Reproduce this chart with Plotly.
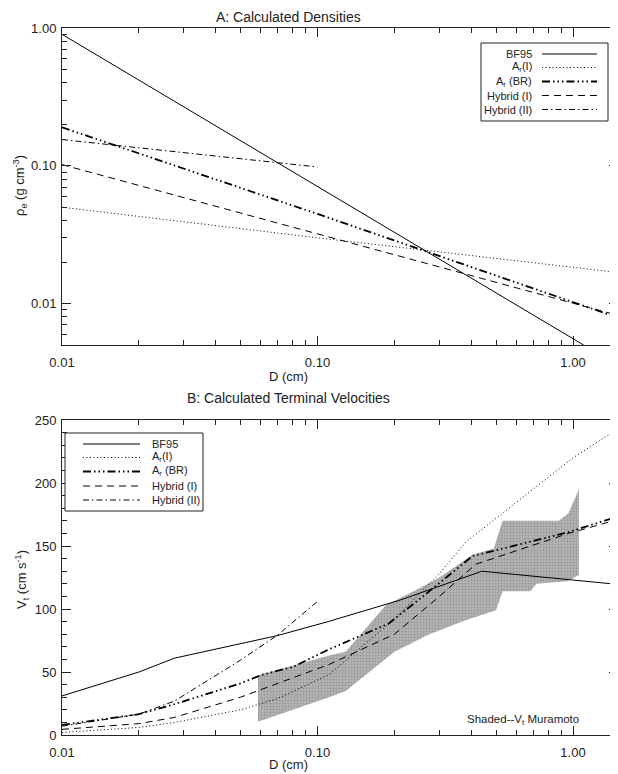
import plotly.graph_objects as go
import math

# ---------------- Panel A: calculated densities (g cm^-3) ----------------
rho_D_bf95 = [0.01, 0.1, 1.0, 1.1]
rho_bf95 = [0.90, 0.0705, 0.0055, 0.0050]

rho_D_ari = [0.01, 0.1, 1.5]
rho_ari = [0.050, 0.030, 0.0168]

rho_D_arbr = [0.01, 0.1, 1.5]
rho_arbr = [0.19, 0.0447, 0.0079]

rho_D_hyb1 = [0.01, 0.1, 1.5]
rho_hyb1 = [0.102, 0.032, 0.0082]

rho_D_hyb2 = [0.01, 0.1]
rho_hyb2 = [0.155, 0.098]

# ---------------- Panel B: terminal velocities (cm s^-1) ----------------
v_D_bf95 = [0.01, 0.02, 0.0276, 0.07, 0.11, 0.21, 0.44, 1.0, 1.5]
v_bf95 = [31, 50, 61, 79, 90, 107, 130, 123, 119.5]

v_D_ari = [0.01, 0.02, 0.0276, 0.05, 0.07, 0.111, 0.2, 0.3, 0.38, 0.67, 1.0, 1.5]
v_ari = [2, 6, 10, 20, 29, 48, 92, 128, 153, 192, 220, 243]

v_D_arbr = [0.01, 0.02, 0.0276, 0.05, 0.06, 0.08, 0.111, 0.19, 0.266, 0.404, 0.96, 1.5]
v_arbr = [8, 16.5, 24.5, 41, 47.5, 54, 68, 88.5, 112, 142, 161, 173.5]

v_D_hyb1 = [0.01, 0.02, 0.0276, 0.05, 0.07, 0.111, 0.2, 0.3, 0.416, 0.6, 0.96, 1.5]
v_hyb1 = [4.5, 9, 14, 30, 41, 56, 80, 110, 135.5, 146, 160, 171]

v_D_hyb2 = [0.01, 0.02, 0.0276, 0.05, 0.07, 0.1]
v_hyb2 = [7, 16.5, 27, 59.5, 79.5, 106]

# Muramoto shaded envelope
mur_D_upper = [0.0585, 0.111, 0.129, 0.185, 0.243, 0.30, 0.404, 0.49, 0.53, 0.88, 0.96, 1.055]
mur_V_upper = [47.5, 63, 66, 103, 115, 125, 143, 148, 170, 170, 176, 195]
mur_D_lower = [0.0585, 0.111, 0.129, 0.20, 0.274, 0.38, 0.45, 0.50, 0.53, 0.68, 0.72, 0.95, 1.055]
mur_V_lower = [10.5, 30, 35, 66, 80, 91, 96, 99, 114, 114, 120, 122, 127]

names = ["BF95", "A<sub>r</sub>(I)", "A<sub>r</sub> (BR)", "Hybrid (I)", "Hybrid (II)"]
styles = [
    dict(color="black", width=1.0, dash="solid"),
    dict(color="black", width=1.0, dash="1px,2.5px"),
    dict(color="black", width=1.8, dash="8px,3px,1.5px,3px,1.5px,3px,1.5px,3px"),
    dict(color="black", width=1.0, dash="7px,5px"),
    dict(color="black", width=1.0, dash="6px,3px,1.5px,3px"),
]

fig = go.Figure()

# shaded region
poly_D = mur_D_upper + mur_D_lower[::-1]
poly_V = mur_V_upper + mur_V_lower[::-1]
fig.add_trace(go.Scatter(x=poly_D, y=poly_V, xaxis="x2", yaxis="y2", mode="lines",
                         fill="toself", fillcolor="#b0b0b0", line=dict(width=0),
                         fillpattern=dict(shape=".", bgcolor="#b4b4b4", fgcolor="#7a7a7a",
                                          size=3, solidity=0.35),
                         hoverinfo="skip", showlegend=False))

top = [(rho_D_bf95, rho_bf95), (rho_D_ari, rho_ari), (rho_D_arbr, rho_arbr),
       (rho_D_hyb1, rho_hyb1), (rho_D_hyb2, rho_hyb2)]
bot = [(v_D_bf95, v_bf95), (v_D_ari, v_ari), (v_D_arbr, v_arbr),
       (v_D_hyb1, v_hyb1), (v_D_hyb2, v_hyb2)]
for (xs, ys), nm, st in zip(top, names, styles):
    fig.add_trace(go.Scatter(x=xs, y=ys, xaxis="x", yaxis="y", mode="lines",
                             name=nm, line=st, showlegend=False))
for (xs, ys), nm, st in zip(bot, names, styles):
    fig.add_trace(go.Scatter(x=xs, y=ys, xaxis="x2", yaxis="y2", mode="lines",
                             name=nm, line=st, showlegend=False))

# geometry (page pixels; the page body has an 8px margin)
OFF = 8
PAGE_W, PAGE_H = 618, 774
W, H = PAGE_W - OFF, PAGE_H - OFF
X_LEFT, X_RIGHT = 62, 618      # plot area, page pixels
Y_TOP, Y_BOT = 28, 735
L = X_LEFT - OFF
R = PAGE_W - X_RIGHT
T = Y_TOP - OFF
B = PAGE_H - Y_BOT
PW, PH = X_RIGHT - X_LEFT, Y_BOT - Y_TOP


def px(x):
    return (x - X_LEFT) / PW


def py(y):
    return (Y_BOT - y) / PH


FONT = "Liberation Sans, Arial, sans-serif"
tickfont = dict(family=FONT, size=13, color="#222")

log_minor_x = [0.02, 0.03, 0.04, 0.05, 0.06, 0.07, 0.08, 0.09,
               0.2, 0.3, 0.4, 0.5, 0.6, 0.7, 0.8, 0.9]
log_minor_y = [0.005, 0.006, 0.007, 0.008, 0.009] + log_minor_x

axis_common = dict(showgrid=False, zeroline=False, showline=True, linecolor="#222",
                   linewidth=1, mirror="ticks", ticks="inside", ticklen=9,
                   tickcolor="#222", tickfont=tickfont)

xaxis_log = dict(type="log", range=[-2, math.log10(1.5)], tickmode="array",
                 tickvals=[0.01, 0.1, 1.0], ticktext=["0.01", "0.10", "1.00"],
                 ticklabelstandoff=5,
                 minor=dict(tickmode="array", tickvals=log_minor_x, ticks="inside",
                            ticklen=5, tickcolor="#222", showgrid=False),
                 **axis_common)

top_dom = [py(345), 1.0]
bot_dom = [0.0, py(420)]

fig.update_layout(
    width=W, height=H,
    margin=dict(l=L, r=R, t=T, b=B),
    paper_bgcolor="white", plot_bgcolor="white",
    font=dict(family=FONT, size=13, color="#222"),
    xaxis=dict(anchor="y", domain=[0, 1], **xaxis_log),
    xaxis2=dict(anchor="y2", domain=[0, 1], **xaxis_log),
    yaxis=dict(anchor="x", domain=top_dom, type="log",
               range=[math.log10(0.005), 0], tickmode="array",
               tickvals=[0.01, 0.1, 1.0], ticktext=["0.01", "0.10", "1.00"],
               ticklabelstandoff=2,
               minor=dict(tickmode="array", tickvals=log_minor_y, ticks="inside",
                          ticklen=5, tickcolor="#222", showgrid=False),
               **axis_common),
    yaxis2=dict(anchor="x2", domain=bot_dom, range=[0, 250], tickmode="linear",
                tick0=0, dtick=50, ticklabelstandoff=2,
                minor=dict(dtick=10, ticks="inside", ticklen=5, tickcolor="#222",
                           showgrid=False),
                **axis_common),
    showlegend=False,
)

ann = []
shapes = []


def text(x, y, s, size=13, xanchor="center", angle=0):
    ann.append(dict(x=px(x), y=py(y), xref="paper", yref="paper", text=s,
                    showarrow=False, xanchor=xanchor, yanchor="middle",
                    textangle=angle, font=dict(family=FONT, size=size, color="#222")))


text(288, 16.5, "A: Calculated Densities", 14)
text(288, 377, "D (cm)", 13)
text(288, 398, "B: Calculated Terminal Velocities", 14)
text(288, 764, "D (cm)", 13)
text(20, 186, "\u03c1<sub>e</sub> (g cm<sup>-3</sup>)", 13, angle=-90)
text(22, 580, "V<sub>t</sub> (cm s<sup>-1</sup>)", 13, angle=-90)
text(581, 720, "Shaded--V<sub>t</sub> Muramoto", 11.5, xanchor="right")

# legend A (labels left, samples right)
shapes.append(dict(type="rect", xref="paper", yref="paper", x0=px(481), x1=px(608),
                   y0=py(121), y1=py(43), line=dict(color="#222", width=1),
                   fillcolor="white"))
rowsA = [54, 67.5, 81.5, 95.5, 109.5]
for r, nm, st in zip(rowsA, names, styles):
    shapes.append(dict(type="line", xref="paper", yref="paper", x0=px(542), x1=px(597),
                       y0=py(r), y1=py(r), line=st))
    text(534, r, nm, 11, xanchor="right")

# legend B (samples left, labels right)
shapes.append(dict(type="rect", xref="paper", yref="paper", x0=px(65), x1=px(203),
                   y0=py(511), y1=py(433), line=dict(color="#222", width=1),
                   fillcolor="white"))
rowsB = [444, 457.5, 471.5, 486, 500]
for r, nm, st in zip(rowsB, names, styles):
    shapes.append(dict(type="line", xref="paper", yref="paper", x0=px(83), x1=px(140),
                       y0=py(r), y1=py(r), line=st))
    text(150, r, nm, 11, xanchor="left")

fig.update_layout(annotations=ann, shapes=shapes)

fig.write_html("out.html")
